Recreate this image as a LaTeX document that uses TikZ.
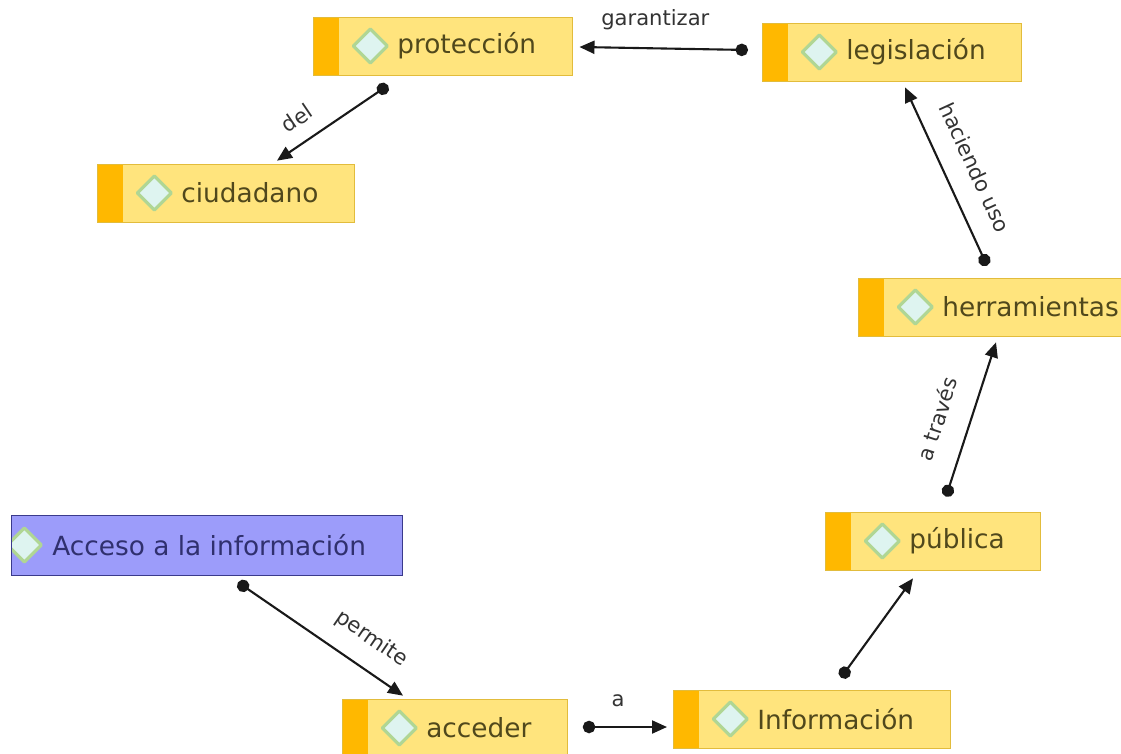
\documentclass[tikz,border=0pt]{standalone}
\usepackage{fontspec}
\setmainfont{DejaVu Sans}
\usetikzlibrary{calc,arrows.meta}
\definecolor{conceptfill}{RGB}{255,228,125}
\definecolor{conceptline}{RGB}{226,188,60}
\definecolor{conceptbar}{RGB}{255,184,0}
\definecolor{conceptink}{RGB}{80,72,28}
\definecolor{groupfill}{RGB}{156,156,250}
\definecolor{groupline}{RGB}{58,58,140}
\definecolor{groupink}{RGB}{48,48,110}
\definecolor{iconfill}{RGB}{222,244,240}
\definecolor{iconline}{RGB}{176,214,148}
\definecolor{linkink}{RGB}{25,25,25}
\begin{document}
\begin{tikzpicture}[
x=0.02cm, y=-0.02cm,
icon/.style={draw=iconline, fill=iconfill, line width=1.8pt, line join=round},
conceptnode/.style={rectangle, draw=conceptline, fill=conceptfill, text=conceptink, anchor=west,
  minimum height=1.16cm, inner xsep=0.72cm, font=\fontsize{15}{18}\selectfont,
  execute at begin node=\hspace*{0.96cm},
  path picture={
    \fill[conceptbar] (path picture bounding box.south west) rectangle ([xshift=0.52cm]path picture bounding box.north west);
    \draw[icon] ([xshift=1.14cm]path picture bounding box.west) +(-0.34cm,0cm) -- +(0cm,0.34cm) -- +(0.34cm,0cm) -- +(0cm,-0.34cm) -- cycle;
  }},
groupnode/.style={rectangle, draw=groupline, fill=groupfill, text=groupink, anchor=west,
  minimum height=1.2cm, inner xsep=0.72cm, font=\fontsize{15}{18}\selectfont,
  execute at begin node=\hspace*{0.1cm},
  path picture={
    \draw[icon] ([xshift=0.26cm]path picture bounding box.west) +(-0.34cm,0cm) -- +(0cm,0.34cm) -- +(0.34cm,0cm) -- +(0cm,-0.34cm) -- cycle;
  }},
link/.style={draw=linkink, line width=1.2pt, {Circle[length=0.25cm]}-{Triangle[length=0.3cm,width=0.26cm]}},
linklabel/.style={font=\fontsize{12}{14}\selectfont, text=black!80, inner sep=1pt},
]
\useasboundingbox (0,0) rectangle (1121,753);
%Nodes
\node[conceptnode]  (prot)    at (313,46)  {protección};
\node[conceptnode]  (legis)   at (762,52)  {legislación};
\node[conceptnode]  (ciud)    at (97,193)  {ciudadano};
\node[conceptnode]  (herr)    at (858,307) {herramientas};
\node[conceptnode]  (pub)     at (825,541) {pública};
\node[groupnode]    (acceso)  at (11,545)  {Acceso a la información};
\node[conceptnode]  (acced)   at (342,728) {acceder};
\node[conceptnode]  (info)    at (673,719) {Información};

%Lines
\draw[link] ($(legis.west)+(-14,-2)$) -- node[linklabel, above=0.31cm, pos=0.55] {garantizar} ($(prot.east)+(7,1)$);
\draw[link] ($(prot.south west)+(75,10)$) -- node[linklabel, sloped, above=0.26cm, pos=0.7] {del} ($(ciud.north west)+(180,-3)$);
\draw[link] ($(herr.north west)+(129,-12)$) -- node[linklabel, sloped, above=0.38cm, pos=0.48] {haciendo uso} ($(legis.south west)+(143,6)$);
\draw[link] ($(pub.north west)+(121,-15)$) -- node[linklabel, sloped, above=0.42cm, pos=0.44] {a través} ($(herr.south west)+(138,6)$);
\draw[link] ($(info.north west)+(168,-12)$) -- ($(pub.south west)+(88,8)$);
\draw[link] ($(acceso.south west)+(227,7)$) -- node[linklabel, sloped, above=0.32cm, pos=0.71] {permite} ($(acced.north west)+(61,-3)$);
\draw[link] ($(acced.east)+(15,-1)$) -- node[linklabel, above=0.35cm, pos=0.42] {a} ($(info.west)+(-6,8)$);
\end{tikzpicture}
\end{document}
